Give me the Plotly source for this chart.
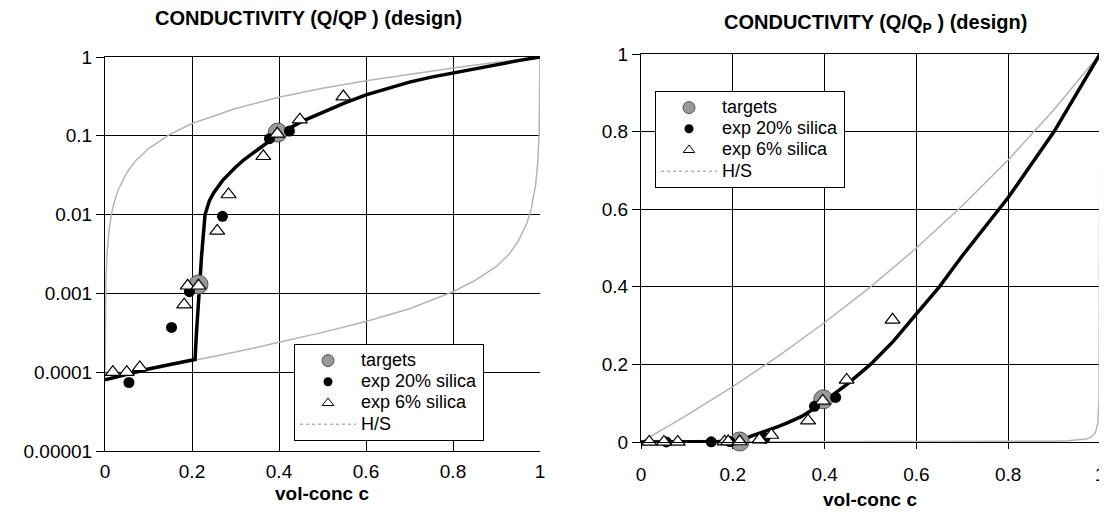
import plotly.graph_objects as go

# The page body has an 8px margin, so the figure is sized to fill the window exactly.
WIN_W, WIN_H, OFF = 1107, 517, 8
FW, FH = WIN_W - OFF, WIN_H - OFF


def fx(px):
    return (px - OFF) / FW


def fy(py):
    return 1 - (py - OFF) / FH


# ---------------- data ----------------
# design curve
c_design = [0, 0.05, 0.1, 0.15, 0.2, 0.207, 0.21, 0.213, 0.217, 0.222, 0.23, 0.24,
            0.25, 0.27, 0.3, 0.32, 0.35, 0.38, 0.4, 0.45, 0.5, 0.55, 0.6, 0.65,
            0.7, 0.75, 0.8, 0.85, 0.9, 0.95, 1.0]
q_design = [8e-5, 9.5e-5, 1.1e-4, 1.25e-4, 1.4e-4, 1.45e-4, 3e-4, 6e-4, 1.0e-3, 3e-3,
            0.01, 0.015, 0.019, 0.027, 0.04, 0.05, 0.066, 0.088, 0.105, 0.15, 0.2,
            0.26, 0.33, 0.4, 0.48, 0.555, 0.63, 0.715, 0.8, 0.9, 1.0]

# targets
c_targets = [0.215, 0.397]
q_targets = [0.0013, 0.11]

# exp 20% silica
c_exp20 = [0.055, 0.153, 0.194, 0.27, 0.378, 0.424]
q_exp20 = [7.4e-5, 3.7e-4, 1.05e-3, 9.5e-3, 0.092, 0.115]

# exp 6% silica
c_exp6 = [0.018, 0.05, 0.08, 0.182, 0.19, 0.215, 0.258, 0.284, 0.364, 0.396, 0.448, 0.548]
q_exp6 = [1.0e-4, 1.0e-4, 1.15e-4, 7.2e-4, 1.25e-3, 1.25e-3, 6.2e-3, 0.018, 0.055,
          0.106, 0.16, 0.315]

# H/S bounds (lower bound 0 -> 1, then upper bound 1 -> 0)
c_hs = [0, 0.1, 0.2, 0.3, 0.4, 0.5, 0.6, 0.7, 0.8, 0.85, 0.9, 0.93, 0.95, 0.97, 0.98,
        0.99, 0.995, 0.998, 1.0,
        0.95, 0.9, 0.8, 0.7, 0.6, 0.5, 0.4, 0.3, 0.2, 0.15, 0.1, 0.07, 0.05, 0.03,
        0.02, 0.015, 0.01, 0.005, 0.002, 0]
q_hs = [8e-5, 1.1e-4, 1.4e-4, 1.8e-4, 2.4e-4, 3.2e-4, 4.4e-4, 6.4e-4, 1.05e-3, 1.45e-3,
        2.2e-3, 3.2e-3, 4.6e-3, 7.8e-3, 0.012, 0.024, 0.047, 0.11, 1.0,
        0.93, 0.857, 0.727, 0.609, 0.5, 0.4, 0.308, 0.222, 0.143, 0.105, 0.069, 0.048,
        0.034, 0.0204, 0.0136, 0.0102, 0.0068, 0.0034, 0.0014, 8e-5]

x_ticks = [0, 0.2, 0.4, 0.6, 0.8, 1]
x_ticklabels = ["0", "0.2", "0.4", "0.6", "0.8", "1"]
ylog_ticks = [1e-5, 1e-4, 1e-3, 1e-2, 1e-1, 1]
ylog_ticklabels = ["0.00001", "0.0001", "0.001", "0.01", "0.1", "1"]
ylin_ticks = [0, 0.2, 0.4, 0.6, 0.8, 1]
ylin_ticklabels = ["0", "0.2", "0.4", "0.6", "0.8", "1"]

legend_names = ["targets", "exp 20% silica", "exp 6% silica", "H/S"]

FONT = "Liberation Sans, Arial, sans-serif"
GRAY = "#b4b4b4"


def lname(s):
    return "<span style='font-size:18px'>" + s + "</span>"


fig = go.Figure()

for xa, ya, lg in [("x", "y", "legend"), ("x2", "y2", "legend2")]:
    fig.add_trace(go.Scatter(x=c_hs, y=q_hs, mode="lines", xaxis=xa, yaxis=ya,
                             line=dict(color=GRAY, width=1.5), showlegend=False,
                             hoverinfo="skip"))
    fig.add_trace(go.Scatter(x=c_design, y=q_design, mode="lines", xaxis=xa, yaxis=ya,
                             line=dict(color="black", width=3.5), showlegend=False,
                             cliponaxis=False))
    fig.add_trace(go.Scatter(x=c_targets, y=q_targets, mode="markers", xaxis=xa, yaxis=ya,
                             marker=dict(symbol="circle", size=19, color="#999999",
                                         line=dict(color="#555555", width=1)),
                             showlegend=False, cliponaxis=False))
    fig.add_trace(go.Scatter(x=c_exp20, y=q_exp20, mode="markers", xaxis=xa, yaxis=ya,
                             marker=dict(symbol="circle", size=11, color="black"),
                             showlegend=False, cliponaxis=False))
    fig.add_trace(go.Scatter(x=c_exp6, y=q_exp6, mode="markers", xaxis=xa, yaxis=ya,
                             marker=dict(symbol="triangle-up", size=13, color="white",
                                         line=dict(color="black", width=1.2)),
                             showlegend=False, cliponaxis=False))
    # legend entries
    fig.add_trace(go.Scatter(x=[None], y=[None], mode="markers", xaxis=xa, yaxis=ya,
                             name=lname(legend_names[0]), legend=lg,
                             marker=dict(symbol="circle", size=12, color="#999999",
                                         line=dict(color="#555555", width=1))))
    fig.add_trace(go.Scatter(x=[None], y=[None], mode="markers", xaxis=xa, yaxis=ya,
                             name=lname(legend_names[1]), legend=lg,
                             marker=dict(symbol="circle", size=9, color="black")))
    fig.add_trace(go.Scatter(x=[None], y=[None], mode="markers", xaxis=xa, yaxis=ya,
                             name=lname(legend_names[2]), legend=lg,
                             marker=dict(symbol="triangle-up", size=10, color="white",
                                         line=dict(color="black", width=1))))
    fig.add_trace(go.Scatter(x=[None], y=[None], mode="lines", xaxis=xa, yaxis=ya,
                             name=lname(legend_names[3]), legend=lg,
                             line=dict(color=GRAY, width=1.5, dash="dot")))

axis_common = dict(showgrid=True, gridcolor="black", gridwidth=1, showline=True,
                   linecolor="black", linewidth=1, zeroline=False, automargin=False,
                   ticklabeloverflow="allow",
                   tickfont=dict(family=FONT, size=19, color="black"))

legend_common = dict(xanchor="left", yanchor="top", bgcolor="white",
                     bordercolor="black", borderwidth=1,
                     font=dict(family=FONT, size=14, color="black"), itemwidth=56,
                     tracegroupgap=0)

fig.update_layout(
    width=FW, height=FH, margin=dict(l=0, r=0, t=0, b=0, autoexpand=False),
    paper_bgcolor="white", plot_bgcolor="white",
    font=dict(family=FONT, color="black"),
    xaxis=dict(domain=[fx(105), fx(540)], range=[0, 1], tickvals=x_ticks,
               ticktext=x_ticklabels, ticks="", mirror=True, anchor="y",
               ticklabelstandoff=3, **axis_common),
    yaxis=dict(domain=[fy(451), fy(57)], type="log", range=[-5, 0],
               tickvals=ylog_ticks, ticktext=ylog_ticklabels, ticks="outside",
               ticklen=8, tickcolor="black", anchor="x", **axis_common),
    xaxis2=dict(domain=[fx(641), fx(1100)], range=[0, 1], tickvals=x_ticks,
                ticktext=x_ticklabels, ticks="outside", ticklen=6, tickcolor="black",
                mirror=True, anchor="y2", ticklabelstandoff=9, **axis_common),
    yaxis2=dict(domain=[fy(442), fy(54)], range=[0, 1], tickvals=ylin_ticks,
                ticktext=ylin_ticklabels, ticks="outside", ticklen=8, tickcolor="black",
                anchor="x2", **axis_common),
    legend=dict(x=fx(294), y=fy(344), **legend_common),
    legend2=dict(x=fx(655), y=fy(91), **legend_common),
    showlegend=True,
)

ann = [
    dict(text="<b>CONDUCTIVITY (Q/QP ) (design)</b>", x=fx(308), y=fy(18.5), size=20),
    dict(text="<b>CONDUCTIVITY (Q/Q<sub>P</sub> ) (design)</b>", x=fx(875), y=fy(24),
         size=20),
    dict(text="<b>vol-conc c</b>", x=fx(322), y=fy(493), size=19),
    dict(text="<b>vol-conc c</b>", x=fx(870), y=fy(499), size=19),
]
for a in ann:
    fig.add_annotation(xref="paper", yref="paper", showarrow=False, xanchor="center",
                       yanchor="middle", font=dict(family=FONT, color="black", size=a["size"]),
                       text=a["text"], x=a["x"], y=a["y"])

fig.write_html("out.html")
